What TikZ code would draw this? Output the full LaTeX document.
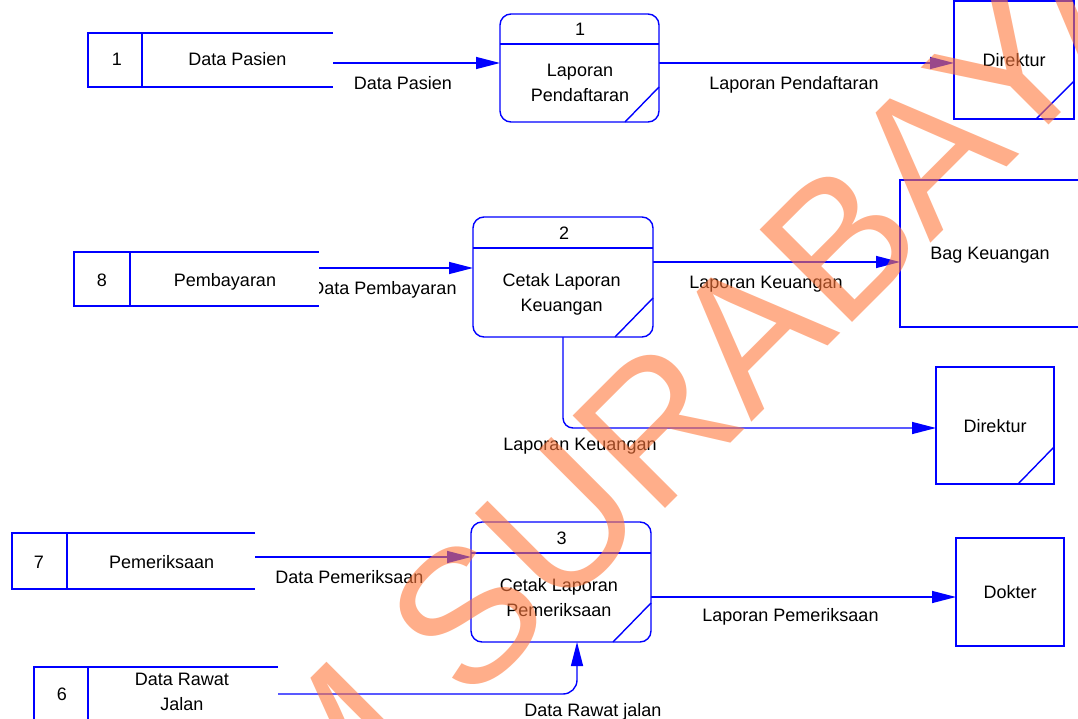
\documentclass[tikz,border=0pt]{standalone}
\usepackage{fontspec}
\setmainfont{Liberation Sans}
\usetikzlibrary{arrows.meta,backgrounds}
\definecolor{flowblue}{RGB}{0,0,255}
\definecolor{wmcolor}{RGB}{255,120,60}

\begin{document}
\begin{tikzpicture}[x=1pt,y=-1pt,
  every node/.style={font=\fontsize{18}{25}\selectfont, inner sep=0pt},
  box/.style={draw=flowblue, line width=1.4pt, fill=white, outer sep=0pt, text depth=0pt},
  procbox/.style={box, rounded corners=11pt},
  holder/.style={fill=white, outer sep=0pt, minimum height=54pt},
  edge/.style={draw=flowblue, line width=1.4pt},
  flow/.style={edge, -{Triangle[length=24pt,width=12pt]}},
  lbl/.style={anchor=base},
  wmark/.style={text=wmcolor, text opacity=0.6, font=\fontsize{190}{190}\selectfont}]
\useasboundingbox (0,0) rectangle (1078,719);
\clip (0,0) rectangle (1078,719);

% data stores
\node[holder, minimum width=245pt] (s1) at (210.5,60) {};
\draw[edge] (s1.north east) -- (s1.north west) -- (s1.south west) -- (s1.south east);
\draw[edge] (s1.north west) ++(54,0) -- ++(0,54);
\node[lbl] (s1num) at (117,65.7) {1};
\node[lbl] (s1txt) at (237.5,65.7) {Data Pasien};

\node[holder, minimum width=245pt] (s8) at (196.5,279) {};
\draw[edge] (s8.north east) -- (s8.north west) -- (s8.south west) -- (s8.south east);
\draw[edge] (s8.north west) ++(56,0) -- ++(0,54);
\node[lbl] (s8num) at (102,286.7) {8};
\node[lbl] (s8txt) at (225,286.7) {Pembayaran};

\node[holder, minimum width=243pt, minimum height=56pt] (s7) at (133.5,561) {};
\draw[edge] (s7.north east) -- (s7.north west) -- (s7.south west) -- (s7.south east);
\draw[edge] (s7.north west) ++(55,0) -- ++(0,56);
\node[lbl] (s7num) at (39,568.3) {7};
\node[lbl] (s7txt) at (161.7,568.3) {Pemeriksaan};

\node[holder, minimum width=244pt] (s6) at (156,694) {};
\draw[edge] (s6.north east) -- (s6.north west) -- (s6.south west) -- (s6.south east);
\draw[edge] (s6.north west) ++(54,0) -- ++(0,54);
\node[lbl] (s6num) at (62,700) {6};
\node[lbl] (s6txt) at (182,685.7) {\begin{tabular}[t]{@{}c@{}}Data Rawat\\Jalan\end{tabular}};

% processes
\node[procbox, minimum width=159pt, minimum height=108pt] (p1) at (579.5,68) {};
\draw[edge] (p1.north west) ++(0,30) -- ++(159,0);
\draw[edge] (p1.south east) ++(-34,0) -- ++(34,-35);
\node[lbl] (p1num) at (580,36) {1};
\node[lbl] (p1txt) at (580,76.7) {\begin{tabular}[t]{@{}c@{}}Laporan\\Pendaftaran\end{tabular}};

\node[procbox, minimum width=180pt, minimum height=120pt] (p2) at (563,277) {};
\draw[edge] (p2.north west) ++(0,31) -- ++(180,0);
\draw[edge] (p2.south east) ++(-38,0) -- ++(38,-39);
\node[lbl] (p2num) at (564,239.3) {2};
\node[lbl] (p2txt) at (561.7,286.7) {\begin{tabular}[t]{@{}c@{}}Cetak Laporan\\Keuangan\end{tabular}};

\node[procbox, minimum width=180pt, minimum height=120pt] (p3) at (561,582) {};
\draw[edge] (p3.north west) ++(0,31) -- ++(180,0);
\draw[edge] (p3.south east) ++(-38,0) -- ++(38,-39);
\node[lbl] (p3num) at (561.7,544.3) {3};
\node[lbl] (p3txt) at (558.8,591.7) {\begin{tabular}[t]{@{}c@{}}Cetak Laporan\\Pemeriksaan\end{tabular}};

% external entities
\node[box, minimum width=120pt, minimum height=118pt] (d1) at (1014,60) {Direktur};
\draw[edge] (d1.south east) ++(-38,0) -- ++(38,-38);
\node[box, minimum width=180pt, minimum height=147pt] (bk) at (990,253.5) {Bag Keuangan};
\node[box, minimum width=118pt, minimum height=117pt] (d2) at (995,425.5) {Direktur};
\draw[edge] (d2.south east) ++(-36,0) -- ++(36,-37);
\node[box, minimum width=108pt, minimum height=108pt] (dk) at (1010,592) {Dokter};

% flows
\begin{scope}[on background layer]
\draw[flow] ([yshift=-3pt]s1.east) coordinate (a1) -- (a1 -| p1.west);
\draw[flow] ([yshift=5pt]p1.east) coordinate (a2) -- (a2 -| d1.west);
\draw[flow] ([yshift=11pt]s8.east) coordinate (a3) -- (a3 -| p2.west);
\draw[flow] ([yshift=15pt]p2.east) coordinate (a4) -- (a4 -| bk.west);
\draw[flow, rounded corners=10pt] (p2.south) |- ([yshift=-2.5pt]d2.west);
\draw[flow] ([yshift=4pt]s7.east) coordinate (a5) -- (a5 -| p3.west);
\draw[flow] ([yshift=-15pt]p3.east) coordinate (a6) -- (a6 -| dk.west);
\draw[flow, rounded corners=14pt] (s6.east) -| ([xshift=16pt]p3.south);

\node[lbl] (f1) at (403,89.3) {Data Pasien};
\node[lbl] (f2) at (794,90) {Laporan Pendaftaran};
\node[lbl] (f3) at (384,294) {Data Pembayaran};
\node[lbl] (f4) at (766,288.3) {Laporan Keuangan};
\node[lbl] (f5) at (580,450) {Laporan Keuangan};
\node[lbl] (f6) at (349.5,583.3) {Data Pemeriksaan};
\node[lbl] (f7) at (790.5,621.7) {Laporan Pemeriksaan};
\node[lbl] (f8) at (592.8,716.7) {Data Rawat jalan};
\end{scope}

% watermark
\node[wmark, rotate=45] (wm) at (501.6,580.4) {STIKOM SURABAYA};
\end{tikzpicture}
\end{document}
